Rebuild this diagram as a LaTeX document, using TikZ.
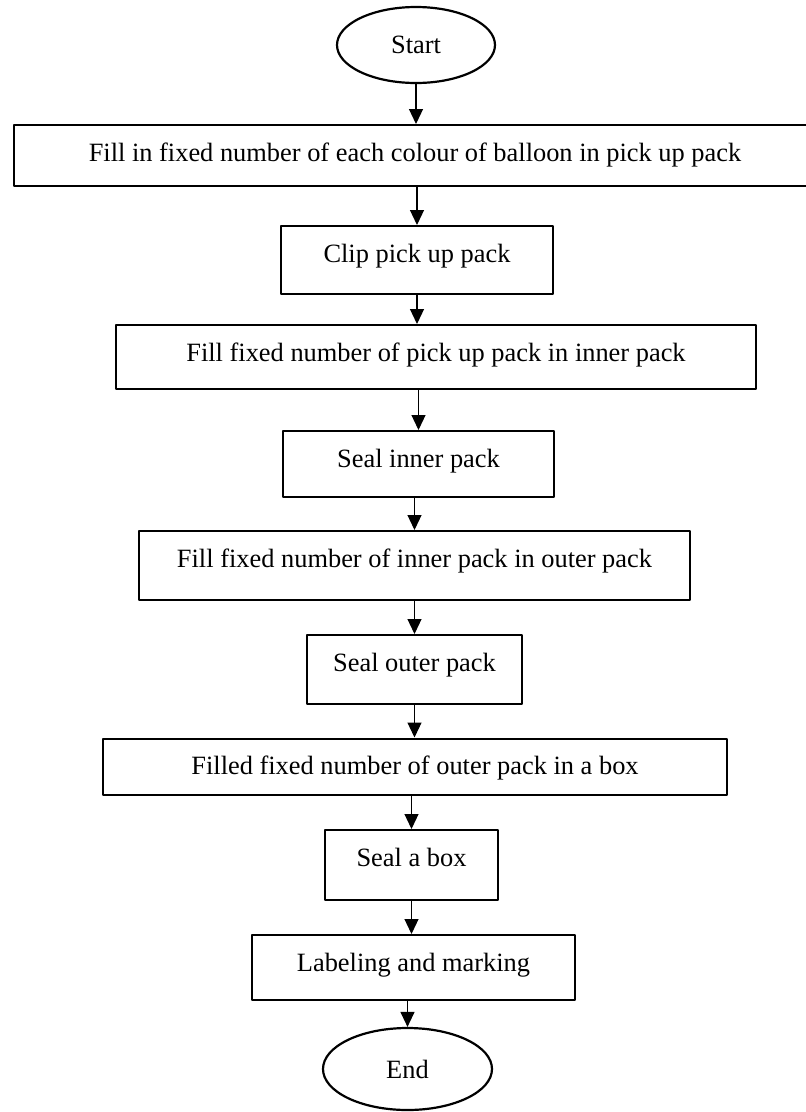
\documentclass[tikz,border=0pt]{standalone}
\usepackage{fontspec}
\setmainfont{Liberation Serif}
\usetikzlibrary{arrows.meta,shapes.geometric}
\begin{document}
\begin{tikzpicture}[x=1pt,y=-1pt,line join=round,
	font=\fontsize{26.4}{30}\selectfont,
	box/.style={draw,line width=2.4pt,inner sep=0pt,anchor=north,text height=36pt},
	term/.style={draw,ellipse,line width=2.2pt,inner sep=0pt},
	arr/.style={line width=1.2pt,-{Triangle[length=15pt,width=14pt]}}]
	\useasboundingbox (0,0) rectangle (806,1112);
	\node[term,minimum width=158pt,minimum height=76pt] (start) at (416,45) {Start};
	\node[box,minimum width=802pt,text depth=25pt] (fill) at (415,124) {Fill in fixed number of each colour of balloon in pick up pack};
	\node[box,minimum width=272pt,text depth=32pt] (clip) at (417,225) {Clip pick up pack};
	\node[box,minimum width=640pt,text depth=27.5pt] (inner) at (436,324) {Fill fixed number of pick up pack in inner pack};
	\node[box,minimum width=271pt,text depth=30pt] (sealin) at (418.5,430) {Seal inner pack};
	\node[box,minimum width=551pt,text depth=33pt] (outer) at (414.5,530) {Fill fixed number of inner pack in outer pack};
	\node[box,minimum width=215pt,text depth=33pt] (sealout) at (414.5,634) {Seal outer pack};
	\node[box,minimum width=624pt,text depth=20.5pt] (boxfill) at (415,737.5) {Filled fixed number of outer pack in a box};
	\node[box,minimum width=173pt,text depth=34pt] (sealbox) at (411.5,829) {Seal a box};
	\node[box,minimum width=323pt,text depth=29pt] (label) at (413.5,934) {Labeling and marking};
	\node[term,minimum width=169pt,minimum height=82pt] (end) at (407.5,1069) {End};
	% arrows
	\draw[arr] (start) -- (start |- fill.north);
	\draw[arr] (fill.south -| clip) -- (clip.north);
	\draw[arr] (clip) -- (clip |- inner.north);
	\draw[arr] (sealin.north |- inner.south) -- (sealin.north);
	\draw[arr] (outer.north |- sealin.south) -- (outer.north);
	\draw[arr] (outer.south) -- (outer.south |- sealout.north);
	\draw[arr] (sealout) -- (sealout |- boxfill.north);
	\draw[arr] (sealbox.north |- boxfill.south) -- (sealbox.north);
	\draw[arr] (sealbox) -- (sealbox |- label.north);
	\draw[arr] (end.north |- label.south) -- (end.north);
\end{tikzpicture}
\end{document}
